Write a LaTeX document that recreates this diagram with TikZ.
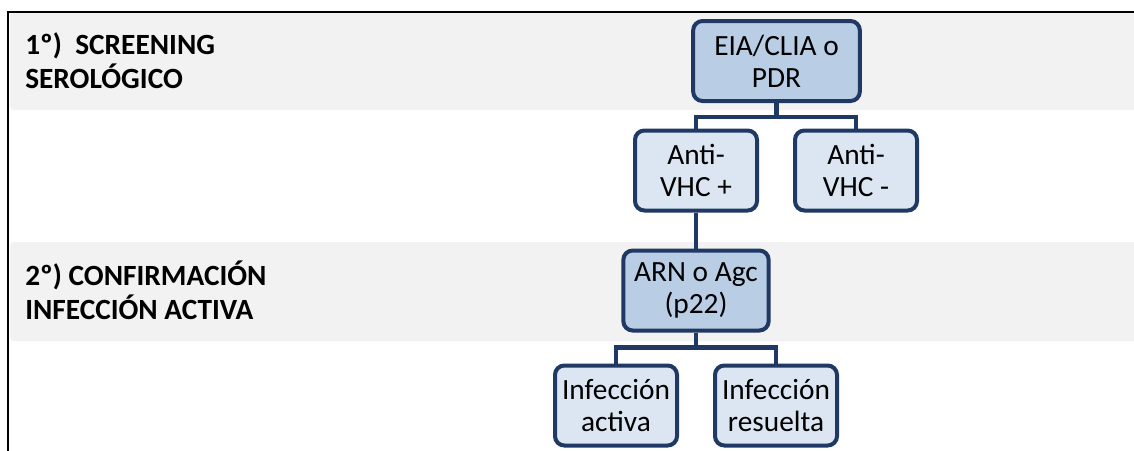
\documentclass[tikz,border=0pt]{standalone}
\usepackage{fontspec}
\setmainfont{Carlito}
\usepackage{xcolor}
\usepackage{tikz}
\usetikzlibrary{positioning}
\definecolor{boxnavy}{RGB}{31, 56, 100}
\definecolor{boxmid}{RGB}{185, 205, 229}
\definecolor{boxlight}{RGB}{220, 230, 242}
\definecolor{bandgray}{RGB}{242, 242, 242}

\begin{document}
\begin{tikzpicture}[x=0.75pt, y=-0.75pt,
  band/.style={fill=bandgray, rounded corners=3pt},
  phase/.style={anchor=west, align=left, inner sep=0pt, font=\fontsize{22}{25.5}\selectfont\bfseries},
  testbox/.style={rectangle, rounded corners=7pt, draw=boxnavy, line width=3pt, fill=boxmid, minimum height=60pt, align=center, font=\fontsize{22}{24}\selectfont},
  resbox/.style={testbox, fill=boxlight, minimum width=91.5pt},
  conn/.style={draw=boxnavy, line width=3.2pt}]
  \useasboundingbox (0,0) rectangle (1134,450);
  % background bands and frame
  \fill[band] (10,13) rectangle (1150,110);
  \fill[band] (10,242) rectangle (1150,341);
  \draw[line width=1.5pt] (8,460) -- (8,12) -- (1140,12);
  % phase labels
  \node[phase] (step1) at (25,61) {1º)~~SCREENING\\SEROLÓGICO};
  \node[phase] (step2) at (25,290) {2º) CONFIRMACIÓN\\INFECCIÓN ACTIVA};
  % tests and results
  \node[testbox, minimum width=125pt] (eia) at (776.5,61) {EIA/CLIA o\\PDR};
  \node[resbox] (antipos) at (696,170.5) {Anti-\\VHC +};
  \node[resbox] (antineg) at (856,170.5) {Anti-\\VHC -};
  \node[testbox, minimum width=109pt] (arn) at (696,290.5) {ARN o Agc\\(p22)};
  \node[resbox] (infact) at (616,405.5) {Infección\\activa};
  \node[resbox] (infres) at (776,405.5) {Infección\\resuelta};
  % connectors
  \draw[conn] (eia.south) -- ++(0,14) -| (antipos.north);
  \draw[conn] (eia.south) -- ++(0,14) -| (antineg.north);
  \draw[conn] (antipos.south) -- (arn.north);
  \draw[conn] (arn.south) -- ++(0,15) -| (infact.north);
  \draw[conn] (arn.south) -- ++(0,15) -| (infres.north);
\end{tikzpicture}
\end{document}
